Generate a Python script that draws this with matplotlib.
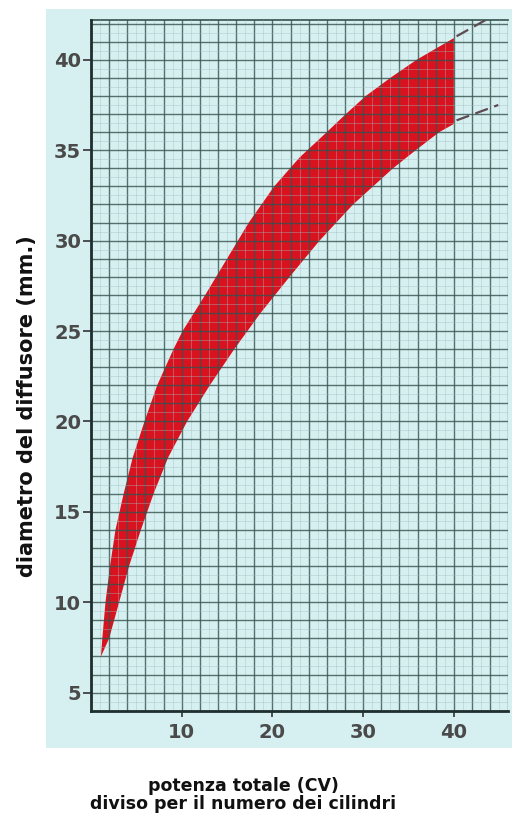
import matplotlib.pyplot as plt
from matplotlib.patches import Rectangle
from matplotlib.ticker import MultipleLocator

# Band of recommended diffuser diameters
upper_power = [1.1, 1.25, 1.6, 2.1, 2.7, 3.6, 4.6, 5.9, 7.3, 9.1, 10.1, 12.6,
               15.0, 16.2, 17.4, 20.2, 23.0, 26.0, 28.1, 30.3, 33.0, 35.9, 40.0]
upper_diam = [7, 8, 10, 12, 14, 16, 18, 20, 22, 24, 25, 27,
              29, 30, 31, 33, 34.6, 36, 37, 38, 39, 40, 41.2]

lower_power = [1.1, 2.0, 3.1, 4.2, 5.5, 6.9, 8.5, 10.6, 13.1, 15.8, 18.7,
               21.9, 25.2, 28.9, 31.1, 33.3, 35.8, 38.4, 40.0]
lower_diam = [7, 8, 10, 12, 14, 16, 18, 20, 22, 24, 26,
              28, 30, 32, 33, 34, 35, 36, 36.45]

# dashed continuation beyond 40 CV
upper_ext_power = [40.3, 46]
upper_ext = [41.3, 42.9]
lower_ext_power = [40.3, 44.9]
lower_ext = [36.65, 37.5]

x_ticks = [10, 20, 30, 40]
y_ticks = [5, 10, 15, 20, 25, 30, 35, 40]

paper = '#d6eff0'
grid_dark = '#34524f'
red = '#d8121f'

fig = plt.figure(figsize=(5.12, 8.13), dpi=100)
fig.patch.set_facecolor('white')

# light blue panel behind the chart
fig.add_artist(Rectangle((0.0898, 0.080), 0.92, 0.909, transform=fig.transFigure,
                         facecolor=paper, edgecolor='none', zorder=-5))

ax = fig.add_axes([0.1777, 0.1258, 0.815, 0.8496])
ax.set_zorder(2)
ax.set_facecolor(paper)
ax.set_xlim(0, 46)
ax.set_ylim(4, 42.2)

# red band
band_x = upper_power + lower_power[::-1]
band_y = upper_diam + lower_diam[::-1]
ax.fill(band_x, band_y, color=red, linewidth=0, zorder=1)

# dashed extensions
ax.plot(upper_ext_power, upper_ext, color='#5e4a52', lw=1.6, dashes=(6, 3), zorder=3)
ax.plot(lower_ext_power, lower_ext, color='#5e4a52', lw=1.6, dashes=(6, 3), zorder=3)

# graph paper grid
ax.xaxis.set_major_locator(MultipleLocator(2))
ax.yaxis.set_major_locator(MultipleLocator(1))
ax.xaxis.set_minor_locator(MultipleLocator(1))
ax.yaxis.set_minor_locator(MultipleLocator(0.5))
ax.grid(which='major', color=grid_dark, lw=1.0, alpha=0.8, zorder=2)
ax.grid(which='minor', color='#9fbfc0', lw=0.5, alpha=0.55, zorder=2)
ax.set_axisbelow(False)

# real ticks (labels only at the printed values)
ax.tick_params(which='both', length=0, labelleft=False, labelbottom=False)
sec_y = ax.secondary_yaxis('left')
sec_y.set_yticks(y_ticks)
sec_y.tick_params(length=6, width=1.2, color='#333333', pad=1, labelsize=14,
                  labelcolor='#4a4a4a')
sec_x = ax.secondary_xaxis('bottom')
sec_x.set_xticks(x_ticks)
sec_x.tick_params(length=4, width=1.2, color='#333333', pad=5, labelsize=14,
                  labelcolor='#4a4a4a')
for lab in sec_y.get_yticklabels() + sec_x.get_xticklabels():
    lab.set_fontweight('bold')
sec_y.spines['left'].set_visible(False)
sec_x.spines['bottom'].set_visible(False)

for s in ['left', 'bottom']:
    ax.spines[s].set_linewidth(2.0)
    ax.spines[s].set_color('#1f2f30')
    ax.spines[s].set_zorder(4)
ax.spines['top'].set_linewidth(1.2)
ax.spines['top'].set_color(grid_dark)
ax.spines['right'].set_visible(False)

fig.text(0.052, 0.50, 'diametro del diffusore (mm.)', rotation=90, ha='center',
         va='center', fontsize=15, fontweight='bold', color='#111111')
fig.text(0.475, 0.022, 'potenza totale (CV)\ndiviso per il numero dei cilindri',
         ha='center', va='center', fontsize=12.5, fontweight='bold',
         color='#111111', linespacing=0.95)

fig.savefig('out.png', dpi=100)
